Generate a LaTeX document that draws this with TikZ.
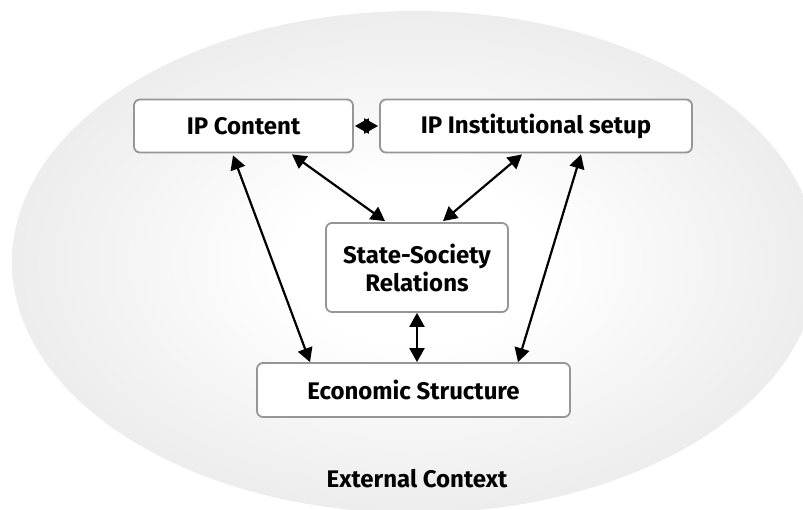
\documentclass[tikz,border=0pt]{standalone}
\usepackage{fontspec}
\setmainfont{Fira Sans}
\usetikzlibrary{arrows.meta}
\definecolor{ctxgray}{RGB}{210,210,210}
\definecolor{boxgray}{RGB}{150,150,150}
\pgfdeclareradialshading{ctxshade}{\pgfpoint{0bp}{0bp}}{%
  color(0bp)=(white); color(8bp)=(white); color(50bp)=(ctxgray)}
\tikzset{
  labelfont/.style={font=\bfseries\fontsize{24}{28}\selectfont},
  factor/.style={draw=boxgray, line width=1.8pt, fill=white, rounded corners=6pt,
    align=center, labelfont, inner sep=0pt},
  link/.style={line width=2.2pt, {Triangle[length=14pt,width=15pt]}-{Triangle[length=14pt,width=15pt]}},
}
\begin{document}
\begin{tikzpicture}[x=1pt,y=-1pt]
  \useasboundingbox (0,0) rectangle (803,509);
  % surrounding context
  \begin{scope}
    \clip (0,0) rectangle (803,509);
    \shade[shading=ctxshade] (415,262) ellipse [x radius=403, y radius=251];
  \end{scope}

  % factors
  \node[factor, minimum width=219pt, minimum height=53pt] (ipc) at (243.5,126) {IP Content};
  \node[factor, minimum width=312pt, minimum height=53pt] (ips) at (536,126) {IP Institutional setup};
  \node[factor, minimum width=182pt, minimum height=89pt] (ss) at (417,267.5) {State-Society\\Relations};
  \node[factor, minimum width=313pt, minimum height=54pt] (ec) at (413.5,390) {Economic Structure};
  \node[labelfont] (ext) at (417,479) {External Context};

  % links between factors
  \draw[link] ([xshift=-10.5pt,yshift=-2pt]ipc.south) -- ([xshift=-103.5pt]ec.north);
  \draw[link] ([xshift=48.5pt,yshift=-1pt]ipc.south) -- ([xshift=-32pt,yshift=1pt]ss.north);
  \draw[link] ([xshift=-14pt,yshift=-1pt]ips.south) -- ([xshift=26pt,yshift=1pt]ss.north);
  \draw[link] ([xshift=45pt,yshift=-1pt]ips.south) -- ([xshift=104.5pt]ec.north);
  \draw[link] (ss.south) -- ([xshift=3.5pt]ec.north);
  \draw[link] ([xshift=1pt]ipc.east) -- ([xshift=-1pt]ips.west);
\end{tikzpicture}
\end{document}
